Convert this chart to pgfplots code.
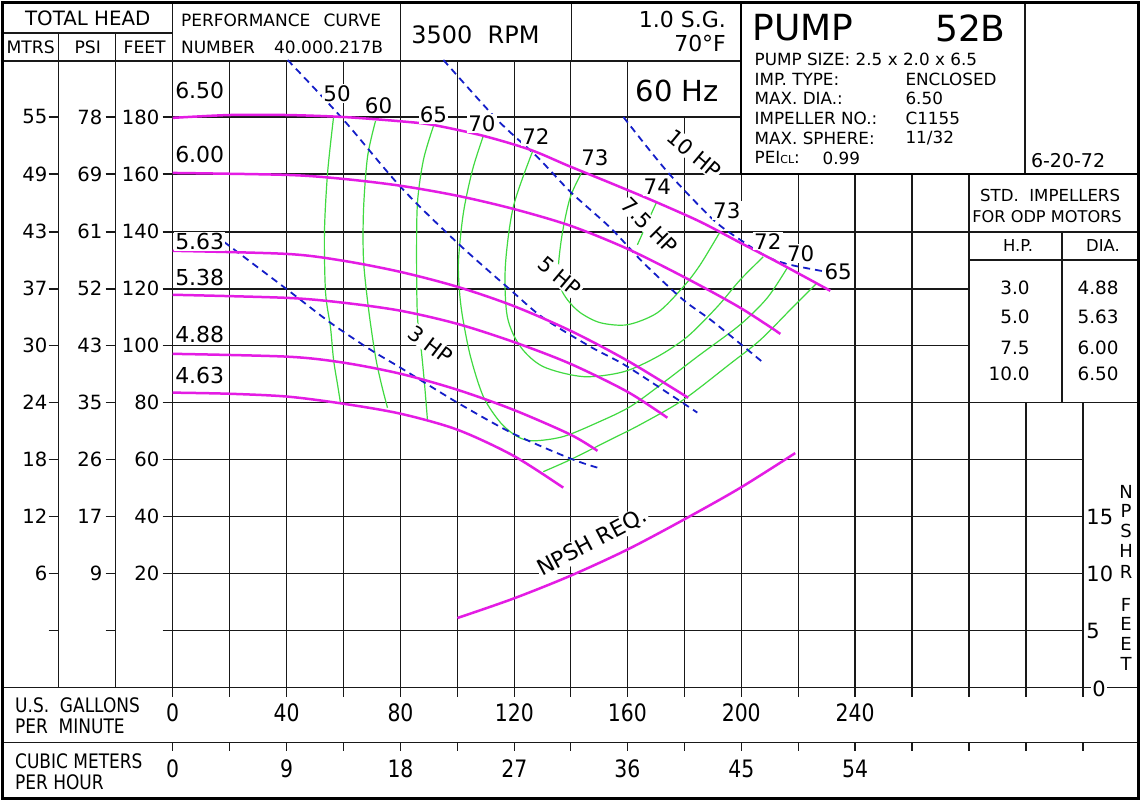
\documentclass[border=0pt]{standalone}
\usepackage{fontspec}
\setmainfont{DejaVu Sans}
\newfontfamily\narrowfont[FakeStretch=0.85]{DejaVu Sans}
\usepackage{pgfplots}
\pgfplotsset{compat=1.18}
\definecolor{mag}{RGB}{228,28,228}
\definecolor{grn}{RGB}{64,218,64}
\definecolor{blu}{RGB}{20,30,200}
\newcommand{\fs}[1]{\fontsize{#1}{#1}\selectfont}

\begin{document}
\begin{tikzpicture}
%------------------------------------------------ frame, grid, header (pixel coordinates)
\begin{scope}[x=0.5pt,y=-0.5pt]
\useasboundingbox (0,0) rectangle (1140,803);
\fill[white] (0,0) rectangle (1140,803);
\begin{scope}[line width=0.72pt,draw=black!90]
\draw (172,3)--(172,697);
\foreach \x in {229,286,343,400,457,514,570,627} \draw (\x,61)--(\x,688);
\draw (684,117)--(684,688);
\draw (741,3)--(741,688);
\foreach \x in {798,855,912,969} \draw (\x,174)--(\x,688);
\draw (1026,403)--(1026,688);
\draw (1083,403)--(1083,697);
\draw (172,117)--(741,117);
\draw (172,174)--(1140,174);
\draw (172,232)--(1140,232);
\draw (172,289)--(969,289);
\draw (172,346)--(969,346);
\draw (172,403)--(1140,403);
\foreach \y in {460,517,574,631} \draw (172,\y)--(1083,\y);
\draw (0,688)--(1140,688);
\draw (0,743)--(1140,743);
% table
\draw (969,260)--(1140,260);
\draw (1062,232)--(1062,403);
% left columns and header
\draw (58,33)--(58,688);
\draw (115,33)--(115,688);
\draw (0,33)--(172,33);
\draw (0,61)--(741,61);
\draw (400,3)--(400,61);
\draw (571,3)--(571,61);
\draw (1025,3)--(1025,174);
% ticks
\foreach \y in {117,174,232,289,346,403,460,517,574,631} {
  \draw (48,\y)--(58,\y);
  \draw (105,\y)--(115,\y);
  \draw (162,\y)--(172,\y);
}
\foreach \x in {172,229,286,343,400,457,514,570,627,684,741,798,855,912,969,1026,1083} {
  \draw (\x,688)--(\x,697);
  \draw (\x,743)--(\x,752);
}
\end{scope}
\draw[line width=1.2pt] (741,2)--(741,174)--(1139,174);
\draw[line width=1.5pt] (1.5,2.5) rectangle (1138.5,799);
\end{scope}

%------------------------------------------------ data
\begin{axis}[at={(86pt,-344.05pt)}, anchor=south west,
  x=1.4275pt, y=1.4275pt, xmin=0, xmax=320, ymin=-20, ymax=200,
  hide axis, clip=false]
% efficiency contours
\addplot[grn,line width=0.6pt,smooth] coordinates {(56.4,180.0)(54.3,160.4)(53.2,139.4)(53.6,118.4)(55.3,106.5)(56.4,94.9)(57.8,86.2)(58.8,79.9)};
\addplot[grn,line width=0.6pt,smooth] coordinates {(71.1,178.6)(68.3,166.0)(66.9,147.5)(66.9,129.9)(68.7,112.4)(71.1,96.0)(73.2,86.2)(75.3,78.1)};
\addplot[grn,line width=0.6pt,smooth] coordinates {(91.4,176.8)(87.9,165.0)(85.8,149.9)(85.5,129.9)(85.8,110.0)(87.2,97.7)(88.3,86.2)(89.3,73.9)};
\addplot[grn,line width=0.6pt,smooth] coordinates {(108.9,173.4)(105.1,161.5)(101.9,146.4)(100.2,129.9)(100.5,119.4)(101.6,110.0)(104.4,96.0)(108.9,82.0)(114.9,72.9)(120.8,68.0)(126.4,66.5)(136.9,68.0)(148.9,72.9)(160.4,78.5)(172.0,86.9)(183.9,96.0)(198.9,107.2)(208.4,116.6)(215.4,127.1)};
\addplot[grn,line width=0.6pt,smooth] coordinates {(126.1,167.8)(119.4,148.5)(116.6,127.5)(117.3,110.0)(121.9,99.5)(129.9,92.5)(144.0,89.0)(158.0,90.7)(169.9,96.0)(180.4,103.0)(190.9,113.5)(198.9,122.9)(207.0,131.0)};
\addplot[grn,line width=0.6pt,smooth] coordinates {(143.6,161.0)(139.4,152.0)(136.6,139.4)(135.2,127.5)(135.9,120.5)(138.4,115.9)(142.9,111.4)(149.9,107.9)(159.4,107.2)(169.9,111.4)(179.0,120.5)(184.9,128.2)(191.9,139.8)};
\addplot[grn,line width=0.6pt,smooth] coordinates {(169.5,149.9)(166.0,142.2)(162.9,135.2)};
\addplot[grn,line width=0.6pt,smooth] coordinates {(129.9,55.7)(139.4,59.9)(153.4,66.9)(163.9,72.2)(179.0,80.9)(195.4,93.5)(206.0,101.9)(217.5,113.5)(225.9,121.9)};
% horsepower lines
\addplot[blu,line width=0.9pt,dash pattern=on 3.5pt off 2.5pt,smooth] coordinates {(17.9,136.3)(40.3,119.4)(55.3,107.9)(69.4,98.4)(79.9,92.1)(99.8,79.9)(119.4,69.0)(139.4,60.3)(148.9,57.1)};
\addplot[blu,line width=0.9pt,dash pattern=on 3.5pt off 2.5pt,smooth] coordinates {(40.3,200.0)(59.9,179.0)(79.9,155.5)(99.8,135.9)(118.4,119.4)(129.9,109.6)(146.4,99.5)(159.4,92.5)(183.9,76.4)};
\addplot[blu,line width=0.9pt,dash pattern=on 3.5pt off 2.5pt,smooth] coordinates {(94.9,200.0)(113.8,179.0)(127.8,166.0)(139.4,153.8)(153.4,141.2)(165.0,128.9)(179.0,115.9)(189.5,108.2)(207.0,93.9)};
\addplot[blu,line width=0.9pt,dash pattern=on 3.5pt off 2.5pt,smooth] coordinates {(158.0,180.0)(173.4,160.8)(189.5,144.0)(198.9,137.0)(208.4,131.0)(216.5,128.2)(229.4,125.7)};
% head curves (impeller diameters)
\addplot[mag,line width=1.25pt,smooth] coordinates {(0,179.7)(20.0,180.7)(39.9,180.7)(59.9,180.0)(79.9,178.5)(91.4,177.2)(108.9,173.4)(125.4,168.5)(138.7,162.9)(153.4,156.9)(168.5,150.6)(184.9,143.3)(199.0,135.9)(213.0,128.6)(230.5,119.1)};
\addplot[mag,line width=1.25pt,smooth] coordinates {(0,160.4)(40.3,159.7)(59.9,158.3)(79.9,155.9)(99.8,152.4)(119.4,147.8)(139.4,141.9)(159.4,133.8)(180.4,123.3)(199.0,113.1)(213.0,104.0)};
\addplot[mag,line width=1.25pt,smooth] coordinates {(0,133.1)(40.3,132.0)(59.9,129.6)(79.9,125.7)(99.8,120.5)(119.4,113.8)(139.4,105.1)(159.4,94.6)(180.7,81.6)};
\addplot[mag,line width=1.25pt,smooth] coordinates {(0,117.7)(40.3,116.6)(59.9,114.9)(79.9,112.1)(99.8,107.5)(119.4,101.2)(139.4,93.5)(159.4,83.7)(173.4,74.6)};
\addplot[mag,line width=1.25pt,smooth] coordinates {(0,97.0)(40.3,96.0)(59.9,93.9)(79.9,90.0)(99.8,84.4)(119.4,77.4)(139.4,68.7)(148.9,63.0)};
\addplot[mag,line width=1.25pt,smooth] coordinates {(0,83.4)(20.0,83.0)(40.3,82.0)(59.9,79.5)(79.9,76.0)(99.8,70.4)(119.4,61.3)(136.9,50.1)};
% NPSH required (right scale: head-axis value = 4*NPSH - 20)
\addplot[mag,line width=1.25pt,smooth] table[x=g,y expr=4*\thisrow{n}-20,row sep=\\] {g n\\ 99.8 6.1\\ 119.4 7.8\\ 139.4 9.8\\ 159.4 12.1\\ 179.0 14.7\\ 198.9 17.5\\ 218.2 20.55\\};
\end{axis}

%------------------------------------------------ texts
\begin{scope}[x=0.5pt,y=-0.5pt,lbl/.style={fill=white,inner sep=0.6pt}]
% header
\node at (87,18) {\fs{9.9}TOTAL HEAD};
\node at (30,47) {\fs{8.6}MTRS};
\node at (87,47) {\fs{8.6}PSI};
\node at (144,47) {\fs{8.6}FEET};
\node[anchor=west,inner sep=0pt] at (180,20) {\fs{8.5}PERFORMANCE};
\node[anchor=east,inner sep=0pt] at (381,20) {\fs{8.5}CURVE};
\node[anchor=west,inner sep=0pt] at (180,47) {\fs{8.5}NUMBER};
\node[anchor=east,inner sep=0pt] at (383,47) {\fs{8.5}40.000.217B};
\node at (475,35) {\fs{12}3500\ \ RPM};
\node[anchor=east,inner sep=0pt] at (726,20) {\fs{11}1.0 S.G.};
\node[anchor=east,inner sep=0pt] at (726,44) {\fs{11}70°F};
\node at (677,91) {\fs{14.5}60 Hz};
% pump box
\node[anchor=west,inner sep=0pt] at (752,28) {\fs{18}PUMP};
\node[anchor=east,inner sep=0pt] at (1006,28) {\fs{18}52B};
\node[anchor=west,inner sep=0pt] at (754,59) {\fs{8.4}PUMP SIZE: 2.5 x 2.0 x 6.5};
\node[anchor=west,inner sep=0pt] at (754,79) {\fs{8.4}IMP. TYPE:};
\node[anchor=west,inner sep=0pt] at (754,98) {\fs{8.4}MAX. DIA.:};
\node[anchor=west,inner sep=0pt] at (754,118) {\fs{8.4}IMPELLER NO.:};
\node[anchor=west,inner sep=0pt] at (754,138) {\fs{8.4}MAX. SPHERE:};
\node[anchor=west,inner sep=0pt] at (754,158) {\fs{8.4}PEI{\fs{5.5}CL}:};
\node[anchor=west,inner sep=0pt] at (905,79) {\fs{8.4}ENCLOSED};
\node[anchor=west,inner sep=0pt] at (905,98) {\fs{8.4}6.50};
\node[anchor=west,inner sep=0pt] at (905,118) {\fs{8.4}C1155};
\node[anchor=west,inner sep=0pt] at (905,138) {\fs{8.4}11/32};
\node[anchor=west,inner sep=0pt] at (822,158) {\fs{8.4}0.99};
\node at (1068,161) {\fs{9.5}6-20-72};
% impeller table
\node at (1050,196) {\fs{8.3}STD.\ \ IMPELLERS};
\node at (1047,217) {\fs{8.1}FOR ODP MOTORS};
\node at (1018,246) {\fs{8.2}H.P.};
\node at (1103,246) {\fs{8.2}DIA.};
\foreach \y/\h/\d in {288/3.0/4.88,317/5.0/5.63,348/7.5/6.00,374/10.0/6.50} {
  \node[anchor=east,inner sep=0pt] at (1030,\y) {\fs{9.2}\h};
  \node[anchor=east,inner sep=0pt] at (1119,\y) {\fs{9.2}\d};
}
% left scales
\foreach \y/\m/\p/\f in {574/6/9/20,517/12/17/40,460/18/26/60,403/24/35/80,346/30/43/100,289/37/52/120,232/43/61/140,174/49/69/160,117/55/78/180} {
  \node[anchor=east,inner sep=0pt] at (47,\y) {\fs{9.8}\m};
  \node[anchor=east,inner sep=0pt] at (102,\y) {\fs{9.8}\p};
  \node[anchor=east,inner sep=0pt] at (159,\y) {\fs{9.8}\f};
}
% bottom scales
\node[anchor=west,inner sep=0pt] at (14,706) {\narrowfont\fs{10}U.S.\ \ GALLONS};
\node[anchor=west,inner sep=0pt] at (14,727) {\narrowfont\fs{10}PER\ \ MINUTE};
\node[anchor=west,inner sep=0pt] at (14,762) {\narrowfont\fs{10}CUBIC METERS};
\node[anchor=west,inner sep=0pt] at (14,783) {\narrowfont\fs{10}PER HOUR};
\foreach \x/\g/\c in {172/0/0,286/40/9,400/80/18,514/120/27,627/160/36,741/200/45,855/240/54} {
  \node at (\x,713) {\narrowfont\fs{12}\g};
  \node at (\x,769) {\narrowfont\fs{12}\c};
}
% NPSH scale
\foreach \y/\v in {517/15,574/10,631/5} \node[anchor=west,inner sep=0pt] at (1086,\y) {\fs{10.5}\v};
\node[anchor=west,fill=white,inner sep=0.5pt] at (1091,689) {\fs{10.5}0};
\foreach \y/\t in {492/N,511/P,531/S,551/H,572/R,605/F,624/E,644/E,664/T} \node at (1126,\y) {\fs{9}\t};
% curve labels
\node[lbl,anchor=west] at (173,91) {\fs{11}6.50};
\node[lbl,anchor=west] at (173,155) {\fs{11}6.00};
\node[lbl,anchor=west] at (173,241.5) {\fs{11}5.63};
\node[lbl,anchor=west] at (173,277.5) {\fs{11}5.38};
\node[lbl,anchor=west] at (173,334.5) {\fs{11}4.88};
\node[lbl,anchor=west] at (173,376) {\fs{11}4.63};
\foreach \x/\y/\t in {336.5/93.5/50,378/106/60,433/115/65,481.5/123.5/70,535.5/136.5/72,594.5/158/73,657/187/74,726.5/210.5/73,767.5/241.5/72,800.5/253.5/70,838/271.5/65}
  \node[lbl] at (\x,\y) {\fs{10.7}\t};
\node[lbl,rotate=-37] at (430,345) {\fs{10.5}3 HP};
\node[lbl,rotate=-40] at (559,277) {\fs{10.5}5 HP};
\node[lbl,rotate=-45] at (649,226) {\fs{10.5}7.5 HP};
\node[lbl,rotate=-40] at (694,154) {\fs{10.5}10 HP};
\node[lbl,rotate=28] at (592,543) {\fs{11}NPSH REQ.};
\end{scope}
\end{tikzpicture}
\end{document}
